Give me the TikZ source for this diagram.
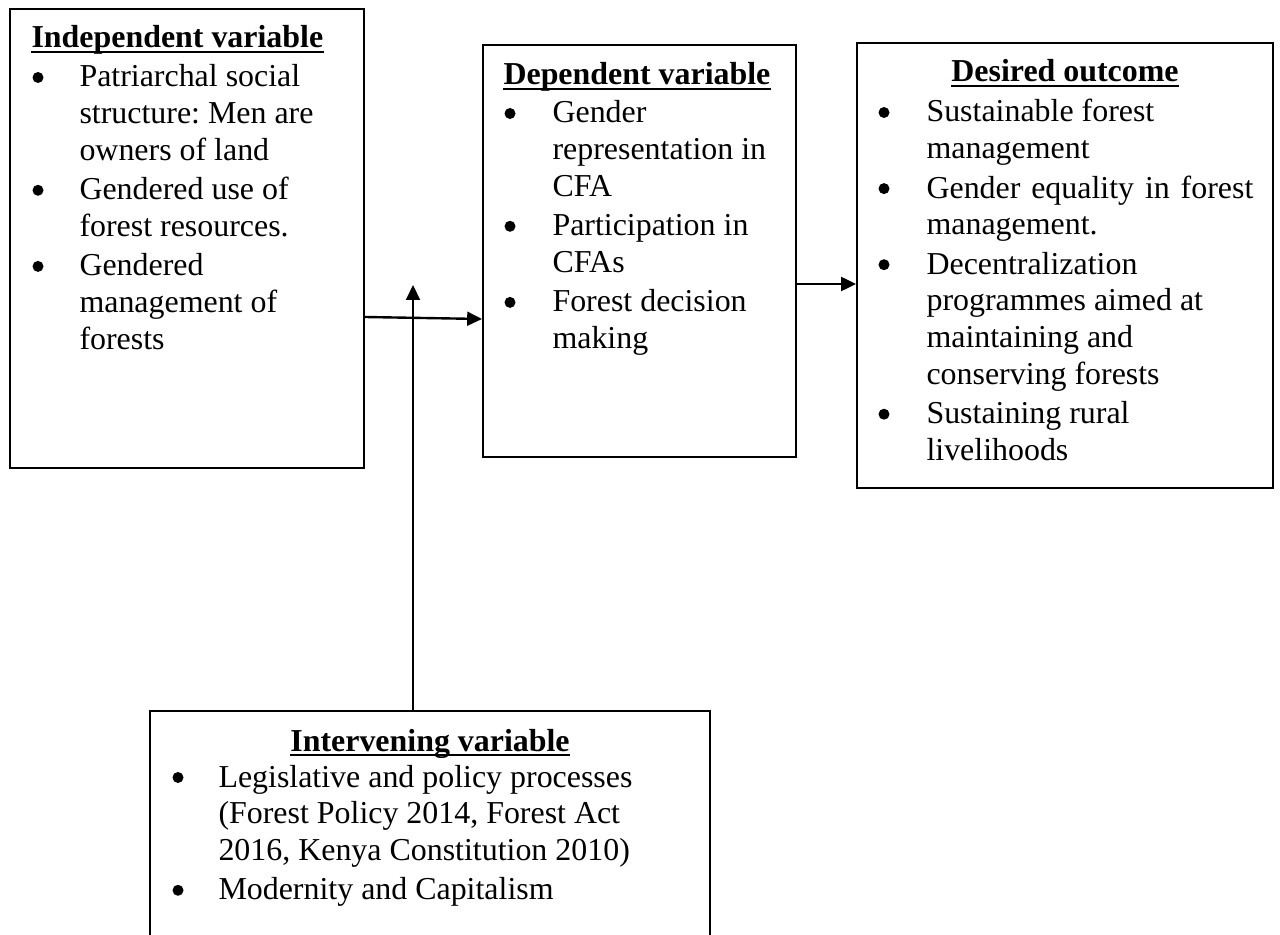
\documentclass[tikz,border=0pt]{standalone}
\usepackage{fontspec}
\setmainfont{Liberation Serif}
\usetikzlibrary{arrows.meta,fit}
\newlength{\pu}
\setlength{\pu}{0.376pt}
\frenchspacing
\begin{document}
\begin{tikzpicture}[x=\pu,y=-\pu,
  box/.style={draw=black,line width=0.7pt,inner sep=0pt,rectangle},
  txt/.style={anchor=base west,inner sep=0pt,font=\fontsize{12pt}{13.8pt}\selectfont},
  hd/.style={inner sep=0pt,font=\fontsize{12pt}{13.8pt}\selectfont\bfseries},
  bul/.style={circle,fill=black,inner sep=0pt,minimum size=11\pu,yshift=9.5\pu},
  ul/.style={line width=0.9pt},
  arr/.style={line width=0.9pt,-{Triangle[length=5.6pt,width=5.2pt]}}]
\useasboundingbox (0,0) rectangle (1280,935);
\clip (0,0) rectangle (1280,935);
\fill[white] (0,0) rectangle (1280,935);

% boxes
\node[box,fit={(10,9) (364,468)}] (b1) {};
\node[box,fit={(483,45) (796,457)}] (b2) {};
\node[box,fit={(857,43) (1273,488)}] (b3) {};
\node[box,fit={(150,711) (710,960)}] (b4) {};

% box 1
\node[hd,anchor=base west] (h1) at (31,48) {Independent variable};
\draw[ul] ([yshift=-1.4pt]h1.base west) -- ([yshift=-1.4pt]h1.base east);
\node[bul] (b1i1) at (38,87) {};
\node[txt] (b1l1) at (79,87) {Patriarchal social};
\node[txt] (b1l2) at (79,123.7) {structure: Men are};
\node[txt] (b1l3) at (79,160.4) {owners of land};
\node[bul] (b1i2) at (38,199.8) {};
\node[txt] (b1l4) at (79,199.8) {Gendered use of};
\node[txt] (b1l5) at (79,236.5) {forest resources.};
\node[bul] (b1i3) at (38,275.9) {};
\node[txt] (b1l6) at (79,275.9) {Gendered};
\node[txt] (b1l7) at (79,312.6) {management of};
\node[txt] (b1l8) at (79,349.3) {forests};

% box 2
\node[hd,anchor=base west] (h2) at (503,85) {Dependent variable};
\draw[ul] ([yshift=-1.4pt]h2.base west) -- ([yshift=-1.4pt]h2.base east);
\node[bul] (b2i1) at (510,123) {};
\node[txt] (b2l1) at (552,123) {Gender};
\node[txt] (b2l2) at (552,159.7) {representation in};
\node[txt] (b2l3) at (552,196.4) {CFA};
\node[bul] (b2i2) at (510,235.8) {};
\node[txt] (b2l4) at (552,235.8) {Participation in};
\node[txt] (b2l5) at (552,272.5) {CFAs};
\node[bul] (b2i3) at (510,311.9) {};
\node[txt] (b2l6) at (552,311.9) {Forest decision};
\node[txt] (b2l7) at (552,348.6) {making};

% box 3
\node[hd,anchor=base] (h3) at (1065,82) {Desired outcome};
\draw[ul] ([yshift=-1.4pt]h3.base west) -- ([yshift=-1.4pt]h3.base east);
\node[bul] (b3i1) at (884,122) {};
\node[txt] (b3l1) at (926,122) {Sustainable forest};
\node[txt] (b3l2) at (926,158.7) {management};
\node[bul] (b3i2) at (884,198.1) {};
\node[txt] (b3l3) at (926,198.1) {\makebox[122.9pt][s]{Gender equality in forest}};
\node[txt] (b3l4) at (926,234.8) {management.};
\node[bul] (b3i3) at (884,274.2) {};
\node[txt] (b3l5) at (926,274.2) {Decentralization};
\node[txt] (b3l6) at (926,310.9) {programmes aimed at};
\node[txt] (b3l7) at (926,347.6) {maintaining and};
\node[txt] (b3l8) at (926,384.3) {conserving forests};
\node[bul] (b3i4) at (884,423.7) {};
\node[txt] (b3l9) at (926,423.7) {Sustaining rural};
\node[txt] (b3l10) at (926,460.4) {livelihoods};

% box 4
\node[hd,anchor=base] (h4) at (430,751) {Intervening variable};
\draw[ul] ([yshift=-1.4pt]h4.base west) -- ([yshift=-1.4pt]h4.base east);
\node[bul] (b4i1) at (178,787) {};
\node[txt] (b4l1) at (218,787) {Legislative and policy processes};
\node[txt] (b4l2) at (218,823.7) {(Forest Policy 2014, Forest Act};
\node[txt] (b4l3) at (218,860.4) {2016, Kenya Constitution 2010)};
\node[bul] (b4i2) at (178,899.8) {};
\node[txt] (b4l4) at (218,899.8) {Modernity and Capitalism};

% connectors
\coordinate (a1s) at (0,317);
\coordinate (a1e) at (0,319);
\coordinate (a2y) at (0,284);
\coordinate (vt) at (413,285);
\draw[arr] (b1.east |- a1s) -- (b2.west |- a1e);
\draw[arr] (b4.north -| vt) -- (vt);
\draw[arr] (b2.east |- a2y) -- (b3.west |- a2y);
\end{tikzpicture}
\end{document}
